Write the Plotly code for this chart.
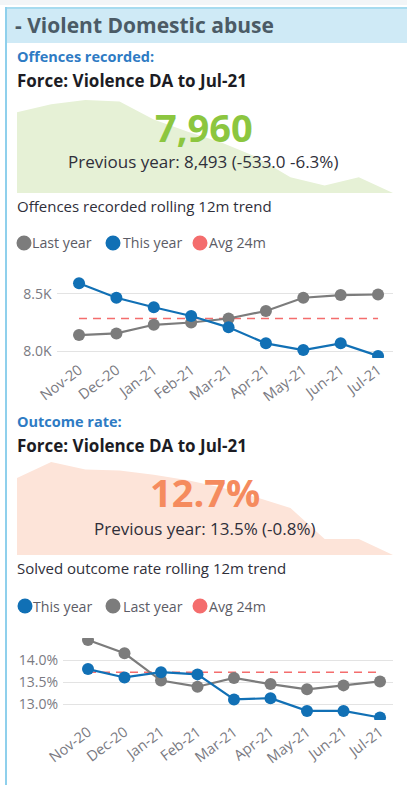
import plotly.graph_objects as go

W, H = 407, 785

# ---------------- data ----------------
months = ["Nov-20", "Dec-20", "Jan-21", "Feb-21", "Mar-21", "Apr-21", "May-21", "Jun-21", "Jul-21"]
offences_this_year = [8590, 8465, 8382, 8306, 8208, 8069, 8011, 8069, 7960]
offences_last_year = [8141, 8155, 8230, 8250, 8285, 8350, 8465, 8488, 8493]
offences_avg_24m = 8285

outcome_this_year = [13.80, 13.61, 13.73, 13.68, 13.11, 13.14, 12.85, 12.85, 12.70]
outcome_last_year = [14.46, 14.16, 13.54, 13.40, 13.60, 13.46, 13.34, 13.43, 13.52]
outcome_avg_24m = 13.73

spark_months = ["Aug-20", "Sep-20", "Oct-20", "Nov-20", "Dec-20", "Jan-21", "Feb-21",
                "Mar-21", "Apr-21", "May-21", "Jun-21", "Jul-21"]
spark_offences = [8515, 8570, 8600, 8590, 8465, 8382, 8306, 8208, 8069, 8011, 8069, 7960]
spark_outcome = [13.42, 13.57, 13.50, 13.49, 13.45, 13.40, 13.33, 13.24, 13.14, 12.85, 12.85, 12.70]

offences_ticks = [8000, 8500]
offences_ticktext = ["8.0K", "8.5K"]
outcome_ticks = [13.0, 13.5, 14.0]
outcome_ticktext = ["13.0%", "13.5%", "14.0%"]

# ---------------- styles ----------------
BLUE = "#1170b5"
GRAY = "#7c7c7c"
RED = "#f46d6d"
GREEN_TXT = "#8cc63f"
GREEN_FILL = "#e6f1d6"
SALMON_TXT = "#f58b5e"
SALMON_FILL = "#fde4d9"
FONT = "Open Sans"


def fx(px):
    return px / W


def fy(py):
    return 1 - py / H


fig = go.Figure()

# sparkline areas (behind KPI text)
fig.add_trace(go.Scatter(x=spark_months, y=spark_offences, mode="lines", line=dict(width=0, color=GREEN_FILL),
                         fill="tozeroy", fillcolor=GREEN_FILL, xaxis="x3", yaxis="y3",
                         showlegend=False, hoverinfo="skip"))
fig.add_trace(go.Scatter(x=spark_months, y=spark_outcome, mode="lines", line=dict(width=0, color=SALMON_FILL),
                         fill="tozeroy", fillcolor=SALMON_FILL, xaxis="x4", yaxis="y4",
                         showlegend=False, hoverinfo="skip"))

# chart 1
fig.add_trace(go.Scatter(x=months, y=[offences_avg_24m] * len(months), mode="lines",
                         line=dict(color=RED, width=1.5, dash="8px,6px"), xaxis="x", yaxis="y", showlegend=False))
fig.add_trace(go.Scatter(x=months, y=offences_last_year, mode="lines+markers",
                         line=dict(color=GRAY, width=2.2), marker=dict(size=12, color=GRAY),
                         xaxis="x", yaxis="y", showlegend=False))
fig.add_trace(go.Scatter(x=months, y=offences_this_year, mode="lines+markers",
                         line=dict(color=BLUE, width=2.2), marker=dict(size=12, color=BLUE),
                         xaxis="x", yaxis="y", showlegend=False))

# chart 2
fig.add_trace(go.Scatter(x=months, y=[outcome_avg_24m] * len(months), mode="lines",
                         line=dict(color=RED, width=1.5, dash="8px,6px"), xaxis="x2", yaxis="y2", showlegend=False))
fig.add_trace(go.Scatter(x=months, y=outcome_last_year, mode="lines+markers",
                         line=dict(color=GRAY, width=2.2), marker=dict(size=12, color=GRAY),
                         xaxis="x2", yaxis="y2", showlegend=False))
fig.add_trace(go.Scatter(x=months, y=outcome_this_year, mode="lines+markers",
                         line=dict(color=BLUE, width=2.2), marker=dict(size=12, color=BLUE),
                         xaxis="x2", yaxis="y2", showlegend=False))

tickfont = dict(family=FONT, size=14, color="#7a7a82")


def xax(domain, rng):
    return dict(domain=domain, range=rng, showgrid=False, zeroline=False, showline=False,
                ticks="", tickangle=-37, tickfont=dict(family=FONT, size=14.5, color="#7a7a82"),
                fixedrange=True, automargin=False)


def yax(anchor, domain, rng, tv, tt):
    return dict(anchor=anchor, domain=domain, range=rng, showgrid=True, gridcolor="#e3e3e3", gridwidth=1,
                zeroline=False, showline=False, ticks="", tickvals=tv, ticktext=tt,
                tickfont=tickfont, ticklabelstandoff=4, fixedrange=True, automargin=False)


hidden = dict(visible=False, fixedrange=True, automargin=False)

layout = dict(
    width=W, height=H, autosize=False,
    margin=dict(l=0, r=0, t=0, b=0, pad=0, autoexpand=False),
    paper_bgcolor="white", plot_bgcolor="rgba(0,0,0,0)",
    font=dict(family=FONT, color="#333333"),
    showlegend=False,
    xaxis=dict(**xax([fx(56.6), fx(393)], [-0.6, 8.4]), anchor="y"),
    yaxis=yax("x", [fy(358), fy(272)], [7941.8, 8688.4], offences_ticks, offences_ticktext),
    xaxis2=dict(**xax([fx(63), fx(393)], [-0.685, 8.356]), anchor="y2"),
    yaxis2=yax("x2", [fy(720), fy(638)], [12.643, 14.507], outcome_ticks, outcome_ticktext),
    xaxis3=dict(**hidden, domain=[fx(17), fx(393)], range=[0, 11], anchor="y3"),
    yaxis3=dict(**hidden, domain=[fy(193), fy(100)], range=[7960, 8600], anchor="x3"),
    xaxis4=dict(**hidden, domain=[fx(17), fx(393)], range=[0, 11], anchor="y4"),
    yaxis4=dict(**hidden, domain=[fy(555), fy(462)], range=[12.70, 13.57], anchor="x4"),
)
fig.update_layout(**layout)

# frame shapes
shapes = [
    dict(type="rect", xref="paper", yref="paper", x0=0, x1=1, y0=fy(5), y1=1,
         fillcolor="#f2f5f7", line_width=0, layer="below"),
    dict(type="rect", xref="paper", yref="paper", x0=fx(5), x1=1, y0=fy(43), y1=fy(7),
         fillcolor="#cfeaf6", line_width=0, layer="below"),
    dict(type="line", xref="paper", yref="paper", x0=fx(5), x1=1, y0=fy(8), y1=fy(8),
         line=dict(color="#a6dbef", width=2), layer="below"),
    dict(type="line", xref="paper", yref="paper", x0=fx(6), x1=fx(6), y0=0, y1=fy(7),
         line=dict(color="#8fd0ec", width=2), layer="below"),
]


def legend(items, ycen):
    out_shapes, out_ann = [], []
    for (cx, tx, label, color) in items:
        r = 7.5
        out_shapes.append(dict(type="circle", xref="paper", yref="paper",
                               x0=fx(cx - r), x1=fx(cx + r), y0=fy(ycen + r), y1=fy(ycen - r),
                               fillcolor=color, line_width=0))
        out_ann.append(dict(text=label, x=fx(tx), y=fy(ycen), xref="paper", yref="paper",
                            xanchor="left", yanchor="middle", showarrow=False,
                            font=dict(family=FONT, size=14.2, color="#5c5c66")))
    return out_shapes, out_ann


s1, a1 = legend([(24, 30, "Last year", GRAY), (113, 121, "This year", BLUE), (200, 207, "Avg 24m", RED)], 243)
s2, a2 = legend([(25, 31, "This year", BLUE), (113, 121, "Last year", GRAY), (200, 207, "Avg 24m", RED)], 606)
shapes += s1 + s2


def text(t, x, y, size, color, bold=False, anchor="left"):
    return dict(text=f"<b>{t}</b>" if bold else t, x=fx(x), y=fy(y), xref="paper", yref="paper",
                xanchor=anchor, yanchor="middle", showarrow=False,
                font=dict(family=FONT, size=size, color=color))


anns = [
    text("- Violent Domestic abuse", 13, 25, 21, "#4b5b66", bold=True),
    text("Offences recorded:", 15, 57, 14.5, "#2e7bc4", bold=True),
    text("Force: Violence DA to Jul-21", 15, 81, 17, "#1c1c24", bold=True),
    text("7,960", 204, 127, 38, GREEN_TXT, bold=True, anchor="center"),
    text("Previous year: 8,493 (-533.0 -6.3%)", 203, 162, 17, "#2f2f3a", anchor="center"),
    text("Offences recorded rolling 12m trend", 15, 206, 15, "#2f2f3a"),
    text("Outcome rate:", 15, 421, 14.5, "#2e7bc4", bold=True),
    text("Force: Violence DA to Jul-21", 15, 445, 17, "#1c1c24", bold=True),
    text("12.7%", 205, 492, 38, SALMON_TXT, bold=True, anchor="center"),
    text("Previous year: 13.5% (-0.8%)", 205, 528, 17, "#2f2f3a", anchor="center"),
    text("Solved outcome rate rolling 12m trend", 15, 568, 15, "#2f2f3a"),
] + a1 + a2

fig.update_layout(shapes=shapes, annotations=anns)

fig.write_html("out.html", config=dict(displayModeBar=False, staticPlot=True),
               post_script="document.documentElement.style.overflow='hidden';"
                           "document.body.style.overflow='hidden';"
                           "document.body.style.margin='0';document.body.style.padding='0';")
